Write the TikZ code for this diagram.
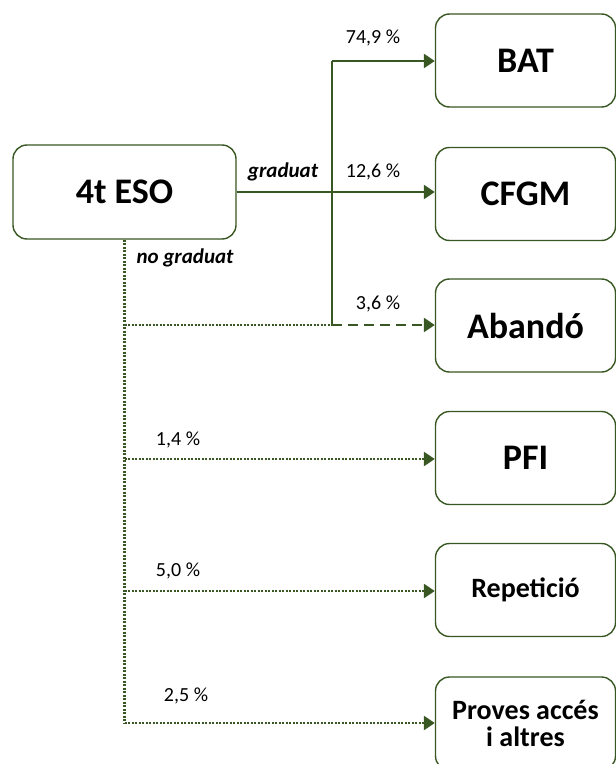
\documentclass[tikz,border=0pt]{standalone}
\usepackage{fontspec}
\setmainfont{Carlito}
\usetikzlibrary{arrows.meta}
\definecolor{dgreen}{RGB}{56,87,35}
\tikzset{
  box/.style={draw=dgreen, line width=1.4bp, rounded corners=14bp, fill=white, minimum width=180bp, minimum height=93bp, inner sep=0pt, align=center, text=black},
  bigtxt/.style={font=\fontsize{36bp}{39bp}\selectfont\bfseries},
  midtxt/.style={font=\fontsize{28bp}{31bp}\selectfont\bfseries},
  conn/.style={draw=dgreen, line width=2.4bp},
  tip/.style={-{Triangle[length=11bp,width=14bp]}},
  dots/.style={conn, dash pattern=on 2bp off 1.5bp},
  dash10/.style={conn, dash pattern=on 10bp off 6bp},
  pct/.style={font=\fontsize{20bp}{22bp}\selectfont, text=black, inner sep=0pt},
  lbl/.style={font=\fontsize{21bp}{23bp}\selectfont\bfseries\itshape, text=black, inner sep=0pt}
}
\begin{document}
\begin{tikzpicture}[x=1bp,y=-1bp]
\useasboundingbox (0,0) rectangle (616,764);
% boxes
\node[box, bigtxt, minimum width=223bp, minimum height=94bp] (eso) at (124.5,192) {4t ESO};
\node[box, bigtxt] (bat) at (525.5,60.5) {BAT};
\node[box, bigtxt] (cfgm) at (525.5,194) {CFGM};
\node[box, bigtxt] (aband) at (525.5,325.5) {Abandó};
\node[box, bigtxt] (pfi) at (525.5,458) {PFI};
\node[box, midtxt] (rep) at (525.5,590) {Repetició};
\node[box, midtxt] (prov) at (525.5,723.5) {Proves accés\\[-4bp]i altres};
% graduat branch
\coordinate (vt) at (332,61);
\coordinate (vb) at (332,325);
\draw[conn, tip] (eso.east) -- (eso.east -| cfgm.west);
\draw[conn] (vb) -- (vt);
\draw[conn, tip] (vt) -- (vt -| bat.west);
\draw[dash10, tip] (vb) -- (vb -| aband.west);
% no graduat branch
\coordinate (db) at (eso.south |- 0,723);
\draw[dots] (eso.south) -- (db);
\draw[dots] (eso.south |- vb) -- (vb);
\draw[dots, tip] (eso.south |- 0,459) -- (pfi.west |- 0,459);
\draw[dots, tip] (eso.south |- 0,591) -- (rep.west |- 0,591);
\draw[dots, tip] (db) -- (prov.west |- db);
% labels
\node[lbl] (lg) at (283,172) {graduat};
\node[lbl] (lng) at (185,258) {no graduat};
\node[pct] (p1) at (373,38) {74,9 \%};
\node[pct] (p2) at (373,172) {12,6 \%};
\node[pct] (p3) at (378,304) {3,6 \%};
\node[pct] (p4) at (178,440) {1,4 \%};
\node[pct] (p5) at (178,571) {5,0 \%};
\node[pct] (p6) at (186,696) {2,5 \%};
\end{tikzpicture}
\end{document}
